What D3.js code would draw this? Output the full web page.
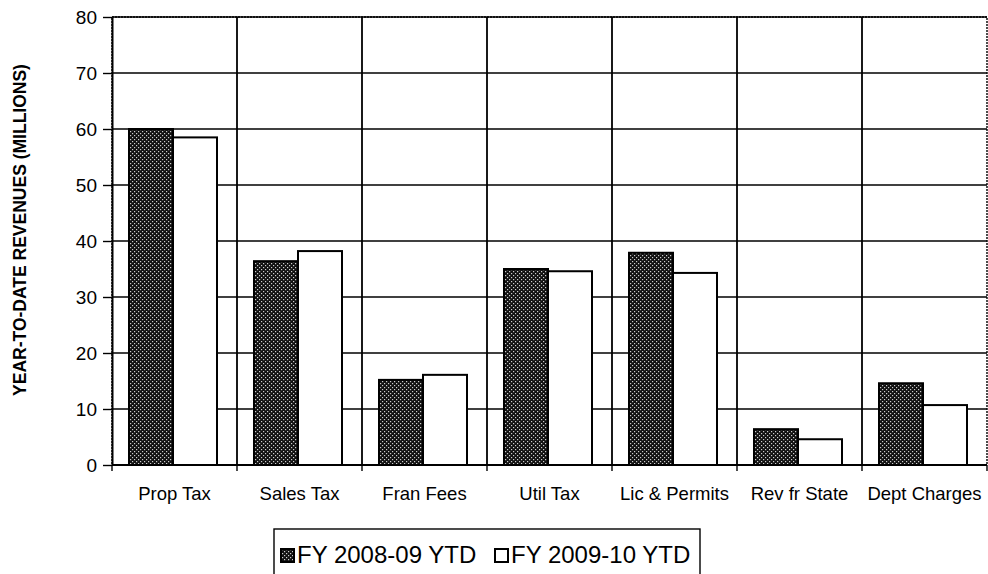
<!DOCTYPE html>
<html>
<head>
<meta charset="utf-8">
<script src="https://cdn.jsdelivr.net/npm/d3@7"></script>
<style>
  body { margin: 0; background: #fff; }
  text { font-family: Arial, "Liberation Sans", sans-serif; fill: #000; }
</style>
</head>
<body>
<div id="root"></div>
<script>
const categories = ["Prop Tax", "Sales Tax", "Fran Fees", "Util Tax", "Lic & Permits", "Rev fr State", "Dept Charges"];
const fy0809 = [60.0, 36.4, 15.2, 35.0, 37.9, 6.4, 14.6];
const fy0910 = [58.5, 38.2, 16.1, 34.6, 34.3, 4.6, 10.7];
const seriesNames = ["FY 2008-09 YTD", "FY 2009-10 YTD"];
const yTicks = [0, 10, 20, 30, 40, 50, 60, 70, 80];

const svg = d3.select("#root").append("svg")
    .attr("width", 988)
    .attr("height", 574),
  margin = { top: 17, right: 1, bottom: 109, left: 112 },
  width = +svg.attr("width") - margin.left - margin.right,
  height = +svg.attr("height") - margin.top - margin.bottom,
  g = svg.append("g").attr("transform", `translate(${margin.left},${margin.top})`);

// dotted dark fill like the printed chart
const pat = svg.append("defs").append("pattern")
  .attr("id", "dots")
  .attr("width", 4).attr("height", 4)
  .attr("patternUnits", "userSpaceOnUse");
pat.append("rect").attr("width", 4).attr("height", 4).attr("fill", "#111");
pat.append("rect").attr("x", 0).attr("y", 0).attr("width", 1.2).attr("height", 1.2).attr("fill", "#ccc");
pat.append("rect").attr("x", 2).attr("y", 2).attr("width", 1.2).attr("height", 1.2).attr("fill", "#ccc");

const x0 = d3.scaleBand().domain(categories).range([0, width]).paddingInner(0).paddingOuter(0);
const x1 = d3.scaleBand().domain(seriesNames).range([17, x0.bandwidth() - 20]);
const y = d3.scaleLinear().domain([0, 80]).range([height, 0]);

// horizontal gridlines
g.append("g")
  .selectAll("line")
  .data(yTicks)
  .join("line")
  .attr("x1", 0).attr("x2", width)
  .attr("y1", d => y(d)).attr("y2", d => y(d))
  .attr("stroke", "#000").attr("stroke-width", 1.4);

// vertical gridlines at category boundaries
g.append("g")
  .selectAll("line")
  .data(categories.slice(1))
  .join("line")
  .attr("x1", d => x0(d)).attr("x2", d => x0(d))
  .attr("y1", 0).attr("y2", height)
  .attr("stroke", "#000").attr("stroke-width", 1.8);

// plot border
g.append("rect")
  .attr("width", width).attr("height", height)
  .attr("fill", "none").attr("stroke", "#000").attr("stroke-width", 1.4)
  .attr("stroke-dasharray", "2,1");

const rows = categories.map((c, i) => ({ cat: c, vals: [fy0809[i], fy0910[i]] }));

g.append("g")
  .selectAll("g")
  .data(rows)
  .join("g")
  .attr("transform", d => `translate(${x0(d.cat)},0)`)
  .selectAll("rect")
  .data(d => d.vals.map((v, j) => ({ key: seriesNames[j], v, j })))
  .join("rect")
  .attr("x", d => x1(d.key))
  .attr("width", x1.bandwidth())
  .attr("y", d => y(d.v))
  .attr("height", d => y(0) - y(d.v))
  .attr("fill", d => d.j === 0 ? "url(#dots)" : "#fff")
  .attr("stroke", "#000")
  .attr("stroke-width", 2);

// left axis
const yAxis = g.append("g")
  .call(d3.axisLeft(y).tickValues(yTicks).tickSize(9).tickSizeOuter(0).tickPadding(6));
yAxis.select(".domain").attr("stroke-width", 2);
yAxis.selectAll(".tick line").attr("stroke-width", 1.4);
yAxis.selectAll("text").attr("font-size", 19).attr("font-family", "Arial, 'Liberation Sans', sans-serif");

// bottom axis: ticks at boundaries
const xAxis = g.append("g").attr("transform", `translate(0,${height})`);
xAxis.append("line").attr("x1", 0).attr("x2", width).attr("stroke", "#000").attr("stroke-width", 2);
xAxis.selectAll("line.tk")
  .data(categories.concat(["end"]))
  .join("line")
  .attr("class", "tk")
  .attr("x1", (d, i) => i * x0.bandwidth()).attr("x2", (d, i) => i * x0.bandwidth())
  .attr("y1", 0).attr("y2", 6)
  .attr("stroke", "#000").attr("stroke-width", 1.4);
xAxis.selectAll("text")
  .data(categories)
  .join("text")
  .attr("x", d => x0(d) + x0.bandwidth() / 2)
  .attr("y", 35)
  .attr("text-anchor", "middle")
  .attr("font-size", 18.5)
  .text(d => d);

// y title
svg.append("text")
  .attr("transform", "translate(26,230) rotate(-90)")
  .attr("text-anchor", "middle")
  .attr("font-size", 17.5)
  .attr("font-weight", "bold")
  .text("YEAR-TO-DATE REVENUES (MILLIONS)");

// legend
const lg = svg.append("g").attr("transform", "translate(274,529)");
lg.append("rect").attr("width", 426).attr("height", 60)
  .attr("fill", "#fff").attr("stroke", "#000").attr("stroke-width", 1.4);
const items = [
  { name: seriesNames[0], x: 0, fill: "url(#dots)" },
  { name: seriesNames[1], x: 214, fill: "#fff" }
];
const li = lg.selectAll("g.item").data(items).join("g").attr("class", "item")
  .attr("transform", d => `translate(${d.x},0)`);
li.append("rect").attr("x", 7).attr("y", 20).attr("width", 13).attr("height", 13)
  .attr("fill", d => d.fill).attr("stroke", "#000").attr("stroke-width", 2);
li.append("text").attr("x", 23).attr("y", 34).attr("font-size", 24).text(d => d.name);
</script>
</body>
</html>
